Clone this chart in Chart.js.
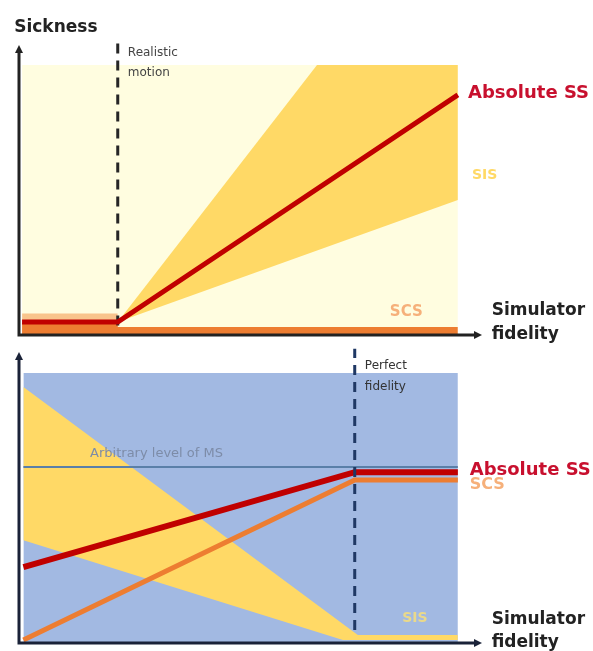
<!DOCTYPE html>
<html lang="en">
<head>
<meta charset="UTF-8" />
<title>Simulator sickness vs simulator fidelity</title>
<script src="https://cdn.jsdelivr.net/npm/chart.js"></script>
<style>
    body { margin: 0; background: #fff; }
    .panel { position: absolute; left: 0; width: 593px; }
    #top { top: 0; height: 345px; }
    #bottom { top: 345px; height: 306px; }
</style>
</head>
<body>
<div class="panel" id="top"><canvas id="topChart" width="593" height="345"></canvas></div>
<div class="panel" id="bottom"><canvas id="bottomChart" width="593" height="306"></canvas></div>

<script>
// x = simulator fidelity, y = sickness (arbitrary units 0..10)

// upper panel: realistic motion
const topBackground = [[0.07, 10], [10, 10]];
const topSisUpper = [[2.25, 0.48], [6.79, 10], [10, 10]];
const topSisLower = [[2.25, 0.48], [10, 5.0]];
const topScsPale = [[0.07, 0.8], [2.25, 0.8]];
const topScs = [[0.07, 0.45], [2.25, 0.45], [2.25, 0.3], [10, 0.3]];
const topAbsoluteSS = [[0.07, 0.48], [2.25, 0.48], [10, 8.89]];
const realisticMotion = [[2.25, 0.35], [2.25, 10.85]];

// lower panel: perfect fidelity
const bottomBackground = [[0.1, 10], [10, 10]];
const bottomSisUpper = [[0.1, 9.48], [7.72, 0.3], [10, 0.3]];
const bottomSisLower = [[0.1, 3.81], [7.38, 0.11], [10, 0.11]];
const msLevel = [[0.1, 6.52], [10, 6.52]];
const bottomScs = [[0.1, 0.11], [7.65, 6.04], [10, 6.04]];
const bottomAbsoluteSS = [[0.1, 2.81], [7.65, 6.33], [10, 6.33]];
const perfectFidelity = [[7.65, 0.48], [7.65, 10.9]];

const pts = arr => arr.map(([x, y]) => ({ x, y }));

function area(data, color, fill, order) {
    return { data: pts(data), backgroundColor: color, borderWidth: 0, pointRadius: 0, fill, order };
}
function line(data, color, width, order, dash) {
    return { data: pts(data), borderColor: color, borderWidth: width, pointRadius: 0, fill: false,
             order, borderDash: dash || [], borderCapStyle: 'butt', clip: false };
}

const sans = '"DejaVu Sans", sans-serif';

// axes with arrows + text labels placed in data units
const decor = {
    id: 'decor',
    afterDatasetsDraw(chart, args, opts) {
        const { ctx, scales: { x, y } } = chart;
        const x0 = x.getPixelForValue(0), y0 = y.getPixelForValue(0);
        const xe = x.getPixelForValue(x.max), ye = y.getPixelForValue(y.max);
        ctx.save();
        ctx.strokeStyle = opts.axisColor;
        ctx.fillStyle = opts.axisColor;
        ctx.lineWidth = 3;
        ctx.beginPath();
        ctx.moveTo(x0, ye + 6);
        ctx.lineTo(x0, y0);
        ctx.lineTo(xe - 6, y0);
        ctx.stroke();
        ctx.beginPath();
        ctx.moveTo(x0, ye); ctx.lineTo(x0 - 4, ye + 8); ctx.lineTo(x0 + 4, ye + 8);
        ctx.fill();
        ctx.beginPath();
        ctx.moveTo(xe, y0); ctx.lineTo(xe - 8, y0 - 4); ctx.lineTo(xe - 8, y0 + 4);
        ctx.fill();

        ctx.textBaseline = 'middle';
        ctx.textAlign = 'left';
        opts.labels.forEach(l => {
            ctx.font = l.font;
            ctx.fillStyle = l.color;
            ctx.fillText(l.text, x.getPixelForValue(l.x), y.getPixelForValue(l.y));
        });
        ctx.restore();
    }
};

function makeOptions(yMax, padding, axisColor, labels) {
    return {
        responsive: false,
        animation: false,
        layout: { padding },
        plugins: { legend: { display: false }, tooltip: { enabled: false }, decor: { axisColor, labels } },
        scales: {
            x: { type: 'linear', min: 0, max: 10.55, display: false },
            y: { type: 'linear', min: 0, max: yMax, display: false }
        },
        elements: { line: { tension: 0 } }
    };
}

new Chart(document.getElementById('topChart'), {
    type: 'line',
    data: {
        datasets: [
            area(topBackground, '#FFFDE0', { value: 0 }, 10),
            area(topSisUpper, '#FFD966', '+1', 9),
            area(topSisLower, 'rgba(0,0,0,0)', false, 9),
            area(topScsPale, '#F9C48C', { value: 0 }, 8),
            area(topScs, '#ED7D31', { value: 0 }, 7),
            line(realisticMotion, '#262626', 3, 3, [10, 7]),
            line(topAbsoluteSS, '#C00000', 5, 2)
        ]
    },
    options: makeOptions(10.74, { left: 19, right: 111, top: 45, bottom: 10 }, '#222', [
        { text: 'Sickness', x: -0.11, y: 11.37, font: 'bold 17px ' + sans, color: '#222' },
        { text: 'Realistic', x: 2.48, y: 10.46, font: '12px ' + sans, color: '#444' },
        { text: 'motion', x: 2.48, y: 9.72, font: '12px ' + sans, color: '#444' },
        { text: 'Absolute SS', x: 10.23, y: 8.95, font: 'bold 18px ' + sans, color: '#C8102E' },
        { text: 'SIS', x: 10.32, y: 5.93, font: 'bold 14px ' + sans, color: '#FFD966' },
        { text: 'SCS', x: 8.45, y: 0.85, font: 'bold 15px ' + sans, color: '#F6B07A' },
        { text: 'Simulator', x: 10.77, y: 0.89, font: 'bold 17px ' + sans, color: '#222' },
        { text: 'fidelity', x: 10.77, y: 0.0, font: 'bold 17px ' + sans, color: '#222' }
    ]),
    plugins: [decor]
});

new Chart(document.getElementById('bottomChart'), {
    type: 'line',
    data: {
        datasets: [
            area(bottomBackground, '#A2B9E2', { value: 0 }, 10),
            area(bottomSisUpper, '#FFD966', '+1', 9),
            area(bottomSisLower, 'rgba(0,0,0,0)', false, 9),
            line(msLevel, '#5A7FA8', 2, 6),
            line(bottomScs, '#ED7D31', 5, 5),
            line(bottomAbsoluteSS, '#C00000', 6, 4),
            line(perfectFidelity, '#1F3864', 3, 3, [10, 7])
        ]
    },
    options: makeOptions(10.78, { left: 19, right: 111, top: 7, bottom: 8 }, '#1A2238', [
        { text: 'Perfect', x: 7.88, y: 10.26, font: '12px ' + sans, color: '#333' },
        { text: 'fidelity', x: 7.88, y: 9.5, font: '12px ' + sans, color: '#333' },
        { text: 'Arbitrary level of MS', x: 1.62, y: 7.0, font: '13px ' + sans, color: '#7D8CA8' },
        { text: 'Absolute SS', x: 10.27, y: 6.4, font: 'bold 18px ' + sans, color: '#C8102E' },
        { text: 'SCS', x: 10.27, y: 5.85, font: 'bold 16px ' + sans, color: '#F6B07A' },
        { text: 'SIS', x: 8.73, y: 0.93, font: 'bold 14px ' + sans, color: '#EAD98A' },
        { text: 'Simulator', x: 10.77, y: 0.85, font: 'bold 17px ' + sans, color: '#222' },
        { text: 'fidelity', x: 10.77, y: 0.0, font: 'bold 17px ' + sans, color: '#222' }
    ]),
    plugins: [decor]
});
</script>
</body>
</html>
